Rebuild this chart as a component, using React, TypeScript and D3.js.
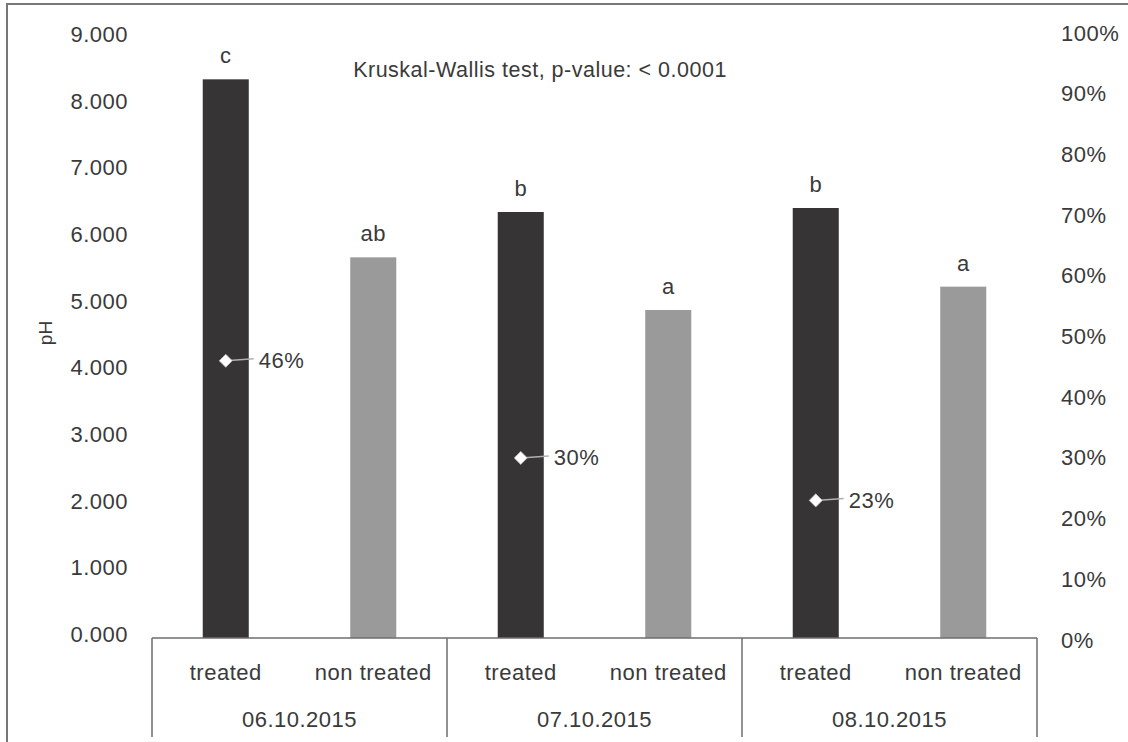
import React from 'react';
import * as d3 from 'd3';

// chart values
const dates = ['06.10.2015', '07.10.2015', '08.10.2015'];
const groups = ['treated', 'non treated'];
const phTreated = [8.38, 6.39, 6.45];
const phNonTreated = [5.71, 4.92, 5.27];
const lettersTreated = ['c', 'b', 'b'];
const lettersNonTreated = ['ab', 'a', 'a'];
const reduction = [0.46, 0.3, 0.23];
const phTicks = [0, 1, 2, 3, 4, 5, 6, 7, 8, 9];
const pctTicks = [0, 0.1, 0.2, 0.3, 0.4, 0.5, 0.6, 0.7, 0.8, 0.9, 1];

const W = 1128;
const H = 742;
const PLOT = { LEFT: 152, RIGHT: 1037, TOP: 38, BASE: 638, BOTTOM: 737 };
const FONT = '"Liberation Sans", Arial, sans-serif';
const TEXT = '#3a3a3a';
const LINE = '#6e6e6e';
const FS = 22;
const LS = 0.5;

export default function App() {
  const x0 = d3.scaleBand().domain(dates).range([PLOT.LEFT, PLOT.RIGHT]).padding(0);
  const x1 = d3
    .scaleBand()
    .domain(groups)
    .range([0, x0.bandwidth()])
    .paddingInner(0.688)
    .paddingOuter(0.344);
  const y = d3.scaleLinear().domain([0, 9]).range([PLOT.BASE, PLOT.TOP]);
  const yPct = d3.scaleLinear().domain([0, 1]).range([640, 33]);
  const fmt = d3.format('.3f');
  const pctFmt = d3.format('.0%');

  const bars = dates.flatMap((d, i) => [
    { date: d, group: groups[0], v: phTreated[i], letter: lettersTreated[i], fill: '#363435' },
    { date: d, group: groups[1], v: phNonTreated[i], letter: lettersNonTreated[i], fill: '#9a9a9a' },
  ]);

  // diamond = square turned 45 degrees
  const diamond = d3.symbol(d3.symbolSquare, 85)() ?? '';

  return (
    <svg
      width={W}
      height={H}
      style={{ position: 'absolute', left: 0, top: 0, background: '#fff' }}
      fontFamily={FONT}
      letterSpacing={LS}
    >
      {/* outer frame */}
      <path d={`M7,${H} V4 H${W}`} fill="none" stroke="#777" strokeWidth={2} />

      {/* left axis labels */}
      {phTicks.map((t) => (
        <text key={t} x={128} y={y(t) + 4} textAnchor="end" fontSize={FS} fill={TEXT}>
          {fmt(t)}
        </text>
      ))}
      <text
        transform={`translate(52,333) rotate(-90)`}
        textAnchor="middle"
        fontSize={19}
        letterSpacing={0}
        fill={TEXT}
      >
        pH
      </text>

      {/* right axis labels */}
      {pctTicks.map((t) => (
        <text key={t} x={1061} y={yPct(t) + 7.5} textAnchor="start" fontSize={FS} fill={TEXT}>
          {pctFmt(t)}
        </text>
      ))}

      {/* bars */}
      {bars.map((b) => {
        const bx = (x0(b.date) ?? 0) + (x1(b.group) ?? 0);
        return (
          <g key={b.date + b.group}>
            <rect x={bx} y={y(b.v)} width={x1.bandwidth()} height={PLOT.BASE - y(b.v)} fill={b.fill} />
            <text x={bx + x1.bandwidth() / 2} y={y(b.v) - 16} textAnchor="middle" fontSize={FS} fill={TEXT}>
              {b.letter}
            </text>
          </g>
        );
      })}

      {/* percentage markers */}
      {dates.map((d, i) => {
        const cx = (x0(d) ?? 0) + (x1(groups[0]) ?? 0) + x1.bandwidth() / 2;
        const cy = yPct(reduction[i]);
        return (
          <g key={d}>
            <line x1={cx} y1={cy} x2={cx + 28} y2={cy - 2} stroke="#b0b0b0" strokeWidth={1.5} />
            <path
              d={diamond}
              transform={`translate(${cx},${cy}) rotate(45)`}
              fill="#fff"
              stroke="#bbb"
              strokeWidth={0.8}
            />
            <text x={cx + 33} y={cy + 7.5} fontSize={FS} fill={TEXT}>
              {pctFmt(reduction[i])}
            </text>
          </g>
        );
      })}

      {/* test annotation */}
      <text x={540} y={77} textAnchor="middle" fontSize={21.5} fill={TEXT}>
        Kruskal-Wallis test, p-value: &lt; 0.0001
      </text>

      {/* category axis */}
      <line x1={PLOT.LEFT} x2={PLOT.RIGHT} y1={PLOT.BASE} y2={PLOT.BASE} stroke={LINE} strokeWidth={1.5} />
      {[...dates.map((d) => x0(d) ?? 0), PLOT.RIGHT].map((sx) => (
        <line key={sx} x1={sx} x2={sx} y1={PLOT.BASE} y2={PLOT.BOTTOM} stroke={LINE} strokeWidth={1.5} />
      ))}
      {dates.map((d) => (
        <g key={d}>
          {groups.map((g) => (
            <text
              key={g}
              x={(x0(d) ?? 0) + (x1(g) ?? 0) + x1.bandwidth() / 2}
              y={680}
              textAnchor="middle"
              fontSize={FS}
              fill={TEXT}
            >
              {g}
            </text>
          ))}
          <text x={(x0(d) ?? 0) + x0.bandwidth() / 2} y={727} textAnchor="middle" fontSize={FS} fill={TEXT}>
            {d}
          </text>
        </g>
      ))}
    </svg>
  );
}
